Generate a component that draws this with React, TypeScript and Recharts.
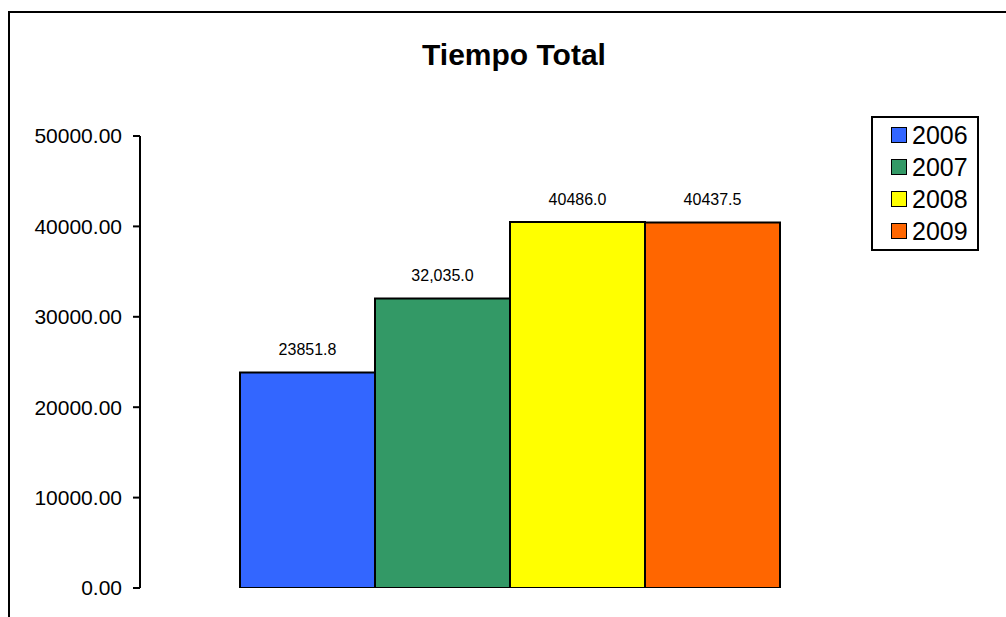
import { BarChart, Bar, XAxis, YAxis, Legend, LabelList } from "recharts";

const CATEGORIES = ["Tiempo Total"];
const SERIES = ["2006", "2007", "2008", "2009"];
const VALUES = [23851.8, 32035.0, 40486.0, 40437.5];
const VALUE_LABELS = ["23851.8", "32,035.0", "40486.0", "40437.5"];
const COLORS = ["#3366FF", "#339966", "#FFFF00", "#FF6600"];
const Y_TICKS = [0, 10000, 20000, 30000, 40000, 50000];

const FONT = "'Liberation Sans', Arial, sans-serif";

function BoxLegend() {
    return (
        <div
            style={{
                border: "2px solid #000",
                background: "#fff",
                width: 108,
                height: 135,
                boxSizing: "border-box",
                paddingTop: 1,
                fontFamily: FONT,
            }}
        >
            {SERIES.map((s, i) => (
                <div
                    key={s}
                    style={{ display: "flex", alignItems: "center", height: 32, paddingLeft: 18 }}
                >
                    <span
                        style={{
                            display: "inline-block",
                            width: 14,
                            height: 14,
                            border: "1.5px solid #000",
                            background: COLORS[i],
                            marginRight: 5,
                        }}
                    />
                    <span style={{ fontSize: 25, color: "#000" }}>{s}</span>
                </div>
            ))}
        </div>
    );
}

export default function App() {
    const row: Record<string, string | number> = { name: CATEGORIES[0] };
    SERIES.forEach((s, i) => {
        row[s] = VALUES[i];
    });
    const data = [row];

    return (
        <div style={{ position: "relative", width: 1006, height: 617, fontFamily: FONT, background: "#fff" }}>
            <style>{`body{margin:0}`}</style>
            {/* outer frame (cropped on right and bottom) */}
            <div
                style={{
                    position: "absolute",
                    left: 8,
                    top: 11,
                    width: 1010,
                    height: 620,
                    borderTop: "2px solid #000",
                    borderLeft: "2px solid #000",
                }}
            />
            <div
                style={{
                    position: "absolute",
                    top: 38,
                    left: 0,
                    width: 1028,
                    textAlign: "center",
                    fontSize: 30,
                    fontWeight: "bold",
                    color: "#000",
                }}
            >
                {CATEGORIES[0]}
            </div>
            <div style={{ position: "absolute", left: 0, top: 0 }}>
                <BarChart
                    width={1006}
                    height={617}
                    data={data}
                    margin={{ top: 136, right: 17, left: 0, bottom: 29 }}
                    barCategoryGap={100}
                    barGap={0}
                >
                    <XAxis dataKey="name" hide />
                    <YAxis
                        width={140}
                        domain={[0, 50000]}
                        ticks={Y_TICKS}
                        tickFormatter={(v: number) => v.toFixed(2)}
                        axisLine={{ stroke: "#000", strokeWidth: 2 }}
                        tickLine={{ stroke: "#000", strokeWidth: 2 }}
                        tickSize={7}
                        tick={{ fontSize: 21, fill: "#000", fontFamily: FONT, dx: -9 }}
                        allowDataOverflow
                    />
                    <Legend
                        layout="vertical"
                        align="right"
                        verticalAlign="top"
                        content={() => <BoxLegend />}
                        wrapperStyle={{ left: 871, top: 116, width: 108 }}
                    />
                    {SERIES.map((s, i) => (
                        <Bar
                            key={s}
                            dataKey={s}
                            fill={COLORS[i]}
                            stroke="#000"
                            strokeWidth={2}
                            isAnimationActive={false}
                        >
                            <LabelList
                                dataKey={s}
                                position="top"
                                offset={17}
                                formatter={() => VALUE_LABELS[i]}
                                style={{ fontSize: 16, fill: "#000", fontFamily: FONT }}
                            />
                        </Bar>
                    ))}
                </BarChart>
            </div>
        </div>
    );
}
